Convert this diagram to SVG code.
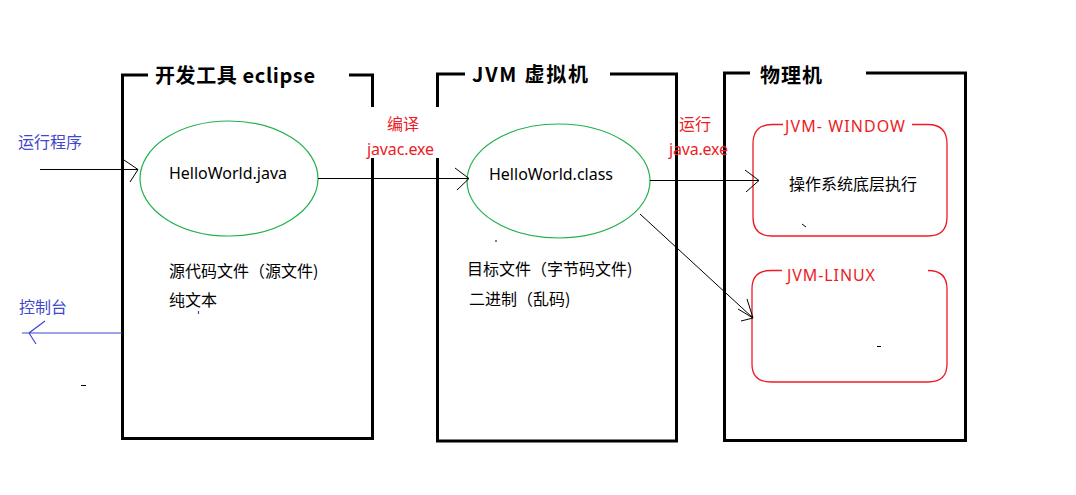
<svg xmlns="http://www.w3.org/2000/svg" width="1076" height="495" viewBox="0 0 1076 495">
<style>
text{font-family:"Noto Sans","Noto Sans CJK SC",sans-serif;font-size:16px;fill:#000}
.t{font-family:"Noto Sans CJK SC",sans-serif;font-size:20px;font-weight:bold}
.cn{font-family:"Noto Sans CJK SC",sans-serif;font-size:16px}
.red{fill:#ed1c24}
.blue{fill:#3f48cc}
.box{fill:none;stroke:#000;stroke-width:3}
.ell{fill:none;stroke:#22b14c;stroke-width:1.2}
.rr{fill:none;stroke:#ed1c24;stroke-width:1.3}
.ln{fill:none;stroke:#000;stroke-width:1}
.bl{fill:none;stroke:#3f48cc;stroke-width:1.2}
</style>
<rect width="1076" height="495" fill="#fff"/>
<g id="box-eclipse">
<path class="box" d="M148,75 H122.5 V438.5 H372.5 V158 M372.5,107 V75 H349"/>
<text class="t" x="155" y="83" textLength="160">开发工具 eclipse</text>
</g>
<g id="box-jvm">
<path class="box" d="M465,74 H437.5 V107 M437.5,158 V441 H676.5 V74 H610"/>
<text class="t" x="472" y="82" textLength="116">JVM 虚拟机</text>
</g>
<g id="box-physical">
<path class="box" d="M750,73 H724.5 V440.5 H965.5 V73 H866"/>
<text class="t" x="760" y="83" textLength="62">物理机</text>
</g>
<g id="node-java">
<ellipse class="ell" cx="229" cy="178.5" rx="89" ry="57.5"/>
<text x="169" y="179" textLength="118">HelloWorld.java</text>
</g>
<g id="node-class">
<ellipse class="ell" cx="558.5" cy="181" rx="91.5" ry="57"/>
<text x="489" y="180" textLength="124">HelloWorld.class</text>
</g>
<g id="node-window">
<path class="rr" d="M783,124.5 H772 Q753,124.5 753,144 V217 Q753,236 772,236 H928 Q947,236 947,217 V144 Q947,124.5 928,124.5 H912"/>
<text class="red" x="785" y="132" textLength="120">JVM- WINDOW</text>
<text class="cn" x="789" y="190">操作系统底层执行</text>
</g>
<g id="node-linux">
<path class="rr" d="M782,270.5 H771 Q752,270.5 752,289 V364 Q752,382 771,382 H928 Q947,382 947,364 V289 Q947,270.5 928,270.5 H928"/>
<text class="red" x="787" y="281" textLength="88">JVM-LINUX</text>
</g>
<g id="labels">
<text class="cn blue" x="18" y="148">运行程序</text>
<text class="cn blue" x="19" y="313">控制台</text>
<text class="cn red" x="387" y="130">编译</text>
<text class="red" x="367" y="155" textLength="67">javac.exe</text>
<text class="cn red" x="679" y="130">运行</text>
<text class="red" x="669" y="155" textLength="59">java.exe</text>
<text class="cn" x="169" y="277">源代码文件（源文件)</text>
<text class="cn" x="169" y="306">纯文本</text>
<text class="cn" x="467" y="275">目标文件（字节码文件)</text>
<text class="cn" x="469" y="305">二进制（乱码)</text>
</g>
<g id="connectors">
<path class="ln" d="M40,169.5 H138 M124,160 L138,169.5 L130,182"/>
<path class="ln" d="M318,178.5 H469 M455,168 L469,178.5 L457,190"/>
<path class="ln" d="M650,180.5 H759 M745,170 L759,180.5 L746,192"/>
<path class="ln" d="M640,214 L753,318 M738,309 L753,318 M747,299 L753,318 M741,321 L753,318"/>
<path class="bl" d="M122,333 H22 M45,321 L29,333 L36,344"/>
</g>
<g id="marks">
<path class="bl" d="M198.5,311 V314"/>
<path class="ln" d="M81,385.5 H86"/>
<path class="ln" d="M496,240 V242"/>
<path class="ln" d="M802,224 L806,227"/>
<path class="ln" d="M877,346.5 H881"/>
</g>
</svg>
